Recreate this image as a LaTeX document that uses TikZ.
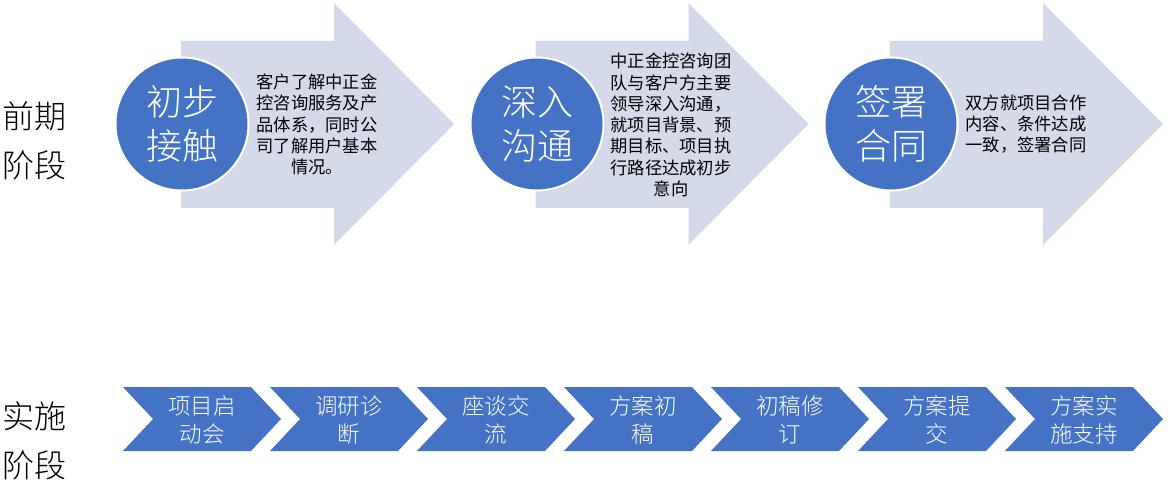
\documentclass[tikz,border=0pt]{standalone}
\usepackage{fontspec}
\setmainfont{Noto Sans CJK SC}
\newfontfamily\thinfont{Noto Sans CJK SC}[UprightFont=* Light]
\definecolor{stageblue}{HTML}{4472C4}
\definecolor{arrowgrey}{HTML}{D5DAEB}

\tikzset{
  phase/.style={align=center, inner sep=0pt, font=\thinfont\fontsize{32}{49}\selectfont},
  stage/.style={circle, fill=stageblue, draw=white, line width=2pt, minimum size=133pt,
    inner sep=0pt, text=white, align=center, font=\thinfont\fontsize{36}{44.5}\selectfont},
  note/.style={align=center, inner sep=0pt, font=\fontsize{17.3}{21.3}\selectfont},
  task/.style={text=white, align=center, inner sep=0pt, font=\thinfont\fontsize{22.5}{28}\selectfont},
}

\begin{document}
\begin{tikzpicture}[x=1pt, y=-1pt]
  \useasboundingbox (0,0) rectangle (1170,486);

  % phase labels
  \node[phase] (pre) at (34,140.5) {前期\\阶段};
  \node[phase] (run) at (34,441) {实施\\阶段};

  % big arrows
  \foreach \d in {0,354.5,709}
    \fill[arrowgrey] ({181+\d},41) -- ({334+\d},41) -- ({334+\d},3) -- ({454+\d},124)
      -- ({334+\d},245) -- ({334+\d},208) -- ({181+\d},208) -- cycle;

  \node[stage] (s1) at (182,124) {初步\\接触};
  \node[stage] (s2) at (537,124) {深入\\沟通};
  \node[stage] (s3) at (891,124) {签署\\合同};

  \node[note] (n1) at (317,124.5) {客户了解中正金\\控咨询服务及产\\品体系，同时公\\司了解用户基本\\情况。};
  \node[note] (n2) at (671,125) {中正金控咨询团\\队与客户方主要\\领导深入沟通，\\就项目背景、预\\期目标、项目执\\行路径达成初步\\意向};
  \node[note] (n3) at (1026,124) {双方就项目合作\\内容、条件达成\\一致，签署合同};

  % chevrons
  \foreach \t [count=\i] in {{项目启\\动会}, {调研诊\\断}, {座谈交\\流}, {方案初\\稿},
      {初稿修\\订}, {方案提\\交}, {方案实\\施支持}} {
    \pgfmathsetmacro\xl{123+(\i-1)*147}
    \fill[stageblue] (\xl,387) -- ({\xl+128},387) -- ({\xl+158},419) -- ({\xl+128},451)
      -- (\xl,451) -- ({\xl+30},419) -- cycle;
    \node[task] (t\i) at ({\xl+79},419.5) {\t};
  }
\end{tikzpicture}
\end{document}
